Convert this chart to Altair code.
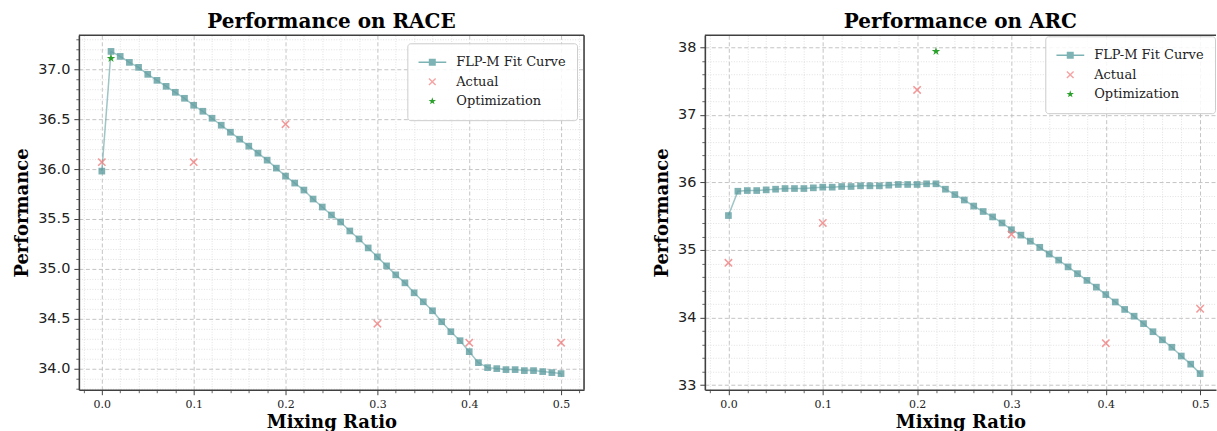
import math
import altair as alt
import pandas as pd

# Mixing ratios at which the fitted curves are evaluated
RATIOS = [0.00, 0.01, 0.02, 0.03, 0.04, 0.05, 0.06, 0.07, 0.08, 0.09,
          0.10, 0.11, 0.12, 0.13, 0.14, 0.15, 0.16, 0.17, 0.18, 0.19,
          0.20, 0.21, 0.22, 0.23, 0.24, 0.25, 0.26, 0.27, 0.28, 0.29,
          0.30, 0.31, 0.32, 0.33, 0.34, 0.35, 0.36, 0.37, 0.38, 0.39,
          0.40, 0.41, 0.42, 0.43, 0.44, 0.45, 0.46, 0.47, 0.48, 0.49, 0.50]

# FLP-M fitted performance
RACE_FIT = [35.98, 37.18, 37.13, 37.07, 37.02, 36.95, 36.89, 36.83, 36.77, 36.71,
            36.64, 36.58, 36.51, 36.44, 36.37, 36.30, 36.23, 36.16, 36.09, 36.01,
            35.93, 35.86, 35.79, 35.70, 35.62, 35.54, 35.47, 35.38, 35.30, 35.21,
            35.12, 35.03, 34.94, 34.86, 34.76, 34.67, 34.58, 34.47, 34.37, 34.28,
            34.17, 34.06, 34.01, 34.00, 33.99, 33.99, 33.98, 33.98, 33.97, 33.96, 33.95]
ARC_FIT = [35.51, 35.87, 35.88, 35.88, 35.89, 35.90, 35.91, 35.91, 35.91, 35.92,
           35.93, 35.93, 35.94, 35.94, 35.95, 35.95, 35.95, 35.96, 35.97, 35.97,
           35.97, 35.98, 35.98, 35.90, 35.82, 35.74, 35.65, 35.57, 35.49, 35.40,
           35.30, 35.22, 35.13, 35.04, 34.94, 34.85, 34.75, 34.65, 34.55, 34.45,
           34.34, 34.23, 34.12, 34.02, 33.91, 33.79, 33.67, 33.56, 33.43, 33.31, 33.17]

# Measured runs
ACTUAL_RATIOS = [0.0, 0.1, 0.2, 0.3, 0.4, 0.5]
RACE_ACTUAL = [36.07, 36.07, 36.45, 34.45, 34.26, 34.26]
ARC_ACTUAL = [34.81, 35.40, 37.37, 35.23, 33.62, 34.13]

# Optimised mixing ratio and its result
RACE_OPT_RATIO = [0.01]
RACE_OPT = [37.11]
ARC_OPT_RATIO = [0.22]
ARC_OPT = [37.94]

SERIES = ["FLP-M Fit Curve", "Actual", "Optimization"]

SERIF = "DejaVu Serif"
SANS = "DejaVu Sans"
SPINE = "#404040"
TEAL = "#5f9ea0"
CORAL = "#f08080"
GREEN = "#2ca02c"


def path_from(points, s=1.0):
    return "M" + "L".join(f"{x * s:.3f},{y * s:.3f}" for x, y in points) + "Z"


def star_points():
    pts = []
    for k in range(10):
        ang = math.radians(-90 + 36 * k)
        r = 1.0 if k % 2 == 0 else 0.382
        pts.append((r * math.cos(ang), r * math.sin(ang)))
    return pts


def cross_points(arm=1.35, half=0.2):
    plus = [(half, -arm), (half, -half), (arm, -half), (arm, half), (half, half),
            (half, arm), (-half, arm), (-half, half), (-arm, half), (-arm, -half),
            (-half, -half), (-half, -arm)]
    c = 1 / math.sqrt(2)
    return [((x - y) * c, (x + y) * c) for x, y in plus]


STAR_PATH = path_from(star_points())
CROSS_PATH = path_from(cross_points())
LEGEND_SHAPES = [
    path_from([(-1, -0.055), (1, -0.055), (1, 0.055), (-1, 0.055)])
    + path_from([(-0.25, -0.25), (0.25, -0.25), (0.25, 0.25), (-0.25, 0.25)]),
    path_from(cross_points(), 0.25),
    path_from(star_points(), 0.28),
]
LEGEND_COLORS = ["#7db3b5", "#f5a3a3", GREEN]


def steps(lo, hi, step, skip_every, domain):
    vals = []
    n = int(round((hi - lo) / step))
    for i in range(n + 1):
        v = round(lo + i * step, 4)
        k = round(v / (step * skip_every), 6)
        if abs(k - round(k)) < 1e-6:
            continue
        if domain[0] <= v <= domain[1]:
            vals.append(v)
    return vals


def panel(title, fit, actual, opt_x, opt_y, x_domain, y_major, y_fmt,
          y_minor_step, width, height, legend_offset, right_spine):
    curve = pd.DataFrame({"ratio": RATIOS, "perf": fit})
    meas = pd.DataFrame({"ratio": ACTUAL_RATIOS, "perf": actual})
    best = pd.DataFrame({"ratio": opt_x, "perf": opt_y})
    legend_df = pd.DataFrame({"ratio": [RATIOS[0]] * 3, "perf": [fit[0]] * 3,
                              "series": SERIES})

    all_y = list(fit) + list(actual) + list(opt_y)
    lo, hi = min(all_y), max(all_y)
    pad = (hi - lo) * 0.05
    y_domain = [lo - pad, hi + pad]

    xs = alt.Scale(domain=x_domain, nice=False, zero=False)
    ys = alt.Scale(domain=y_domain, nice=False, zero=False)

    x_major = [0.0, 0.1, 0.2, 0.3, 0.4, 0.5]
    x_minor = steps(-0.04, 0.54, 0.02, 5, x_domain)
    y_minor = steps(math.floor(y_domain[0]) - 1, math.ceil(y_domain[1]) + 1,
                    y_minor_step, round((y_major[1] - y_major[0]) / y_minor_step),
                    y_domain)

    minor = alt.Chart(curve).mark_point(opacity=0).encode(
        x=alt.X("ratio:Q", scale=xs, axis=alt.Axis(
            orient="bottom", values=x_minor, labels=False, domain=False,
            tickSize=3, tickColor=SPINE, tickWidth=0.8, title=None,
            grid=True, gridColor="#d9d9d9", gridDash=[1, 1.6], gridWidth=0.8)),
        y=alt.Y("perf:Q", scale=ys, axis=alt.Axis(
            orient="left", values=y_minor, labels=False, domain=False,
            tickSize=3, tickColor=SPINE, tickWidth=0.8, title=None,
            grid=True, gridColor="#d9d9d9", gridDash=[1, 1.6], gridWidth=0.8)),
    )

    line = alt.Chart(curve).mark_line(color=TEAL, opacity=0.6, strokeWidth=1.5).encode(
        x=alt.X("ratio:Q", scale=xs, axis=alt.Axis(
            orient="bottom", values=x_major, format=".1f", title="Mixing Ratio",
            labelFont=SERIF, labelFontSize=11, labelColor="#222222",
            labelPadding=4, labelFlush=False, labelOverlap=False,
            tickSize=5, tickColor=SPINE, tickWidth=1,
            domain=True, domainColor=SPINE, domainWidth=1.6,
            grid=True, gridColor="#bdbdbd", gridDash=[4, 2.5], gridWidth=0.9,
            titleFont=SERIF, titleFontSize=18, titleFontWeight="bold",
            titleColor="#000000", titlePadding=4)),
        y=alt.Y("perf:Q", scale=ys, axis=alt.Axis(
            orient="left", values=y_major, format=y_fmt, title="Performance",
            labelFont=SANS, labelFontSize=14.5, labelColor="#222222",
            labelPadding=4, labelOverlap=False,
            tickSize=5, tickColor=SPINE, tickWidth=1,
            domain=True, domainColor=SPINE, domainWidth=1.6,
            grid=True, gridColor="#bdbdbd", gridDash=[4, 2.5], gridWidth=0.9,
            titleFont=SERIF, titleFontSize=18, titleFontWeight="bold",
            titleColor="#000000", titlePadding=6)),
    )

    squares = alt.Chart(curve).mark_point(
        shape="square", filled=True, color=TEAL, opacity=0.8, size=45).encode(
        x=alt.X("ratio:Q", scale=xs, axis=None),
        y=alt.Y("perf:Q", scale=ys, axis=None),
    )
    crosses = alt.Chart(meas).mark_point(
        shape=CROSS_PATH, filled=True, color=CORAL, opacity=0.8, size=60).encode(
        x=alt.X("ratio:Q", scale=xs, axis=None),
        y=alt.Y("perf:Q", scale=ys, axis=None),
    )
    stars = alt.Chart(best).mark_point(
        shape=STAR_PATH, filled=True, color=GREEN, opacity=1, size=80).encode(
        x=alt.X("ratio:Q", scale=xs, axis=None),
        y=alt.Y("perf:Q", scale=ys, axis=None),
    )

    leg = alt.Legend(
        title=None, orient="top-right", offset=legend_offset, padding=11,
        fillColor="rgba(255,255,255,0.85)", strokeColor="#cccccc", cornerRadius=3,
        labelFont=SERIF, labelFontSize=13, labelColor="#222222", labelOffset=10,
        labelLimit=300, rowPadding=3.5, symbolSize=784, symbolOpacity=1,
        symbolStrokeWidth=0, clipHeight=16)
    legend_layer = alt.Chart(legend_df).mark_point(filled=True, opacity=0).encode(
        x=alt.X("ratio:Q", scale=xs, axis=None),
        y=alt.Y("perf:Q", scale=ys, axis=None),
        color=alt.Color("series:N", scale=alt.Scale(domain=SERIES, range=LEGEND_COLORS),
                        legend=leg),
        shape=alt.Shape("series:N", scale=alt.Scale(domain=SERIES, range=LEGEND_SHAPES),
                        legend=leg),
    )

    edge = pd.DataFrame({"edge": ["frame"]})
    top = alt.Chart(edge).mark_rule(color=SPINE, strokeWidth=1.6).encode(
        x=alt.value(0), x2=alt.value(width), y=alt.value(0))
    layers = [minor, line, squares, crosses, stars, legend_layer, top]
    if right_spine:
        layers.append(alt.Chart(edge).mark_rule(color=SPINE, strokeWidth=1.6).encode(
            x=alt.value(width), y=alt.value(0), y2=alt.value(height)))

    return alt.layer(*layers).resolve_axis(
        x="independent", y="independent"
    ).properties(
        width=width, height=height,
        title=alt.Title(title, font=SERIF, fontSize=20, fontWeight="bold",
                        color="#000000", anchor="middle", frame="group",
                        baseline="alphabetic", offset=-13),
    )


race = panel("Performance on RACE", RACE_FIT, RACE_ACTUAL, RACE_OPT_RATIO, RACE_OPT,
             [-0.025, 0.525], [34.0, 34.5, 35.0, 35.5, 36.0, 36.5, 37.0], ".1f",
             0.1, 506, 355, 7.5, True)
arc = panel("Performance on ARC", ARC_FIT, ARC_ACTUAL, ARC_OPT_RATIO, ARC_OPT,
            [-0.025, 0.5168], [33, 34, 35, 36, 37, 38], "d",
            0.2, 512, 355, 1, False)

chart = alt.hconcat(race, arc, spacing=68).resolve_scale(
    x="independent", y="independent", color="independent", shape="independent"
).resolve_legend(
    color="independent", shape="independent"
).properties(
    padding={"left": 13, "top": 11, "right": 0, "bottom": 0},
    background="white",
).configure_view(strokeOpacity=0)

chart.save("out.html", embed_options={"renderer": "svg", "actions": False})
